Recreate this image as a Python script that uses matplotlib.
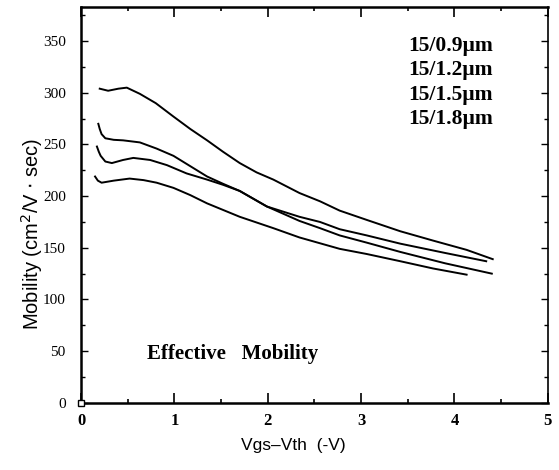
import numpy as np
import matplotlib.pyplot as plt
from matplotlib.ticker import MultipleLocator

# values (Vgs-Vth in -V, mobility in cm2/V.sec)
x_09 = [0.20, 0.29, 0.40, 0.49, 0.63, 0.80, 0.99, 1.17, 1.35, 1.52, 1.70, 1.88, 2.06, 2.34, 2.56,
        2.77, 3.06, 3.42, 3.77, 4.13, 4.41]
mu_09 = [304, 302, 304, 305, 299, 290, 277, 265, 254, 243, 232, 223, 216, 203, 195,
         186, 177, 166, 157, 148, 139]

x_12 = [0.185, 0.20, 0.22, 0.26, 0.35, 0.45, 0.63, 0.81, 0.99, 1.17, 1.35, 1.52, 1.70, 1.99,
        2.34, 2.56, 2.77, 3.06, 3.42, 3.90, 4.40]
mu_12 = [270, 265, 260, 256, 254.5, 254, 252, 246, 239, 229, 219, 212, 205, 190,
         176, 169, 162, 155, 146, 135, 125]

x_15 = [0.17, 0.19, 0.21, 0.26, 0.33, 0.45, 0.56, 0.74, 0.92, 1.13, 1.35, 1.52, 1.70, 1.99,
        2.34, 2.56, 2.77, 3.06, 3.42, 3.90, 4.34]
mu_15 = [248, 243, 239, 233.5, 232, 235, 237, 235, 230, 222, 216, 211, 205, 190,
         180, 175, 168, 162, 154, 145, 137]

x_18 = [0.15, 0.18, 0.22, 0.35, 0.52, 0.67, 0.81, 0.99, 1.17, 1.35, 1.70, 2.06, 2.34, 2.77,
        3.06, 3.42, 3.77, 4.13]
mu_18 = [219, 215, 213, 215, 217, 215.5, 213, 208, 201, 193, 180, 169, 160, 149,
         144, 137, 130, 124]

labels = ['15/0.9\u00b5m', '15/1.2\u00b5m', '15/1.5\u00b5m', '15/1.8\u00b5m']

serif = ['Liberation Serif', 'DejaVu Serif']
sans = ['Liberation Sans', 'DejaVu Sans']

fig = plt.figure(figsize=(5.59, 4.70), dpi=100)
ax = fig.add_axes([0.145, 0.143, 0.835, 0.842])

for xs, ys in [(x_09, mu_09), (x_12, mu_12), (x_15, mu_15), (x_18, mu_18)]:
    ax.plot(xs, ys, color='black', lw=1.4, solid_joinstyle='round')

# small open square at the origin
ax.plot([0], [0], marker='s', ms=5, mfc='white', mec='black', mew=1, clip_on=False, zorder=5)

ax.set_xlim(0, 5)
ax.set_ylim(0, 383)

ax.xaxis.set_major_locator(MultipleLocator(1))
ax.xaxis.set_minor_locator(MultipleLocator(0.5))
ax.yaxis.set_major_locator(MultipleLocator(50))
ax.yaxis.set_minor_locator(MultipleLocator(25))

ax.tick_params(axis='x', which='both', direction='in', top=True, bottom=True, pad=7)
ax.tick_params(axis='x', which='major', length=7, width=1.2)
ax.tick_params(axis='x', which='minor', length=3, width=1.2)
ax.tick_params(axis='y', which='both', direction='in', left=True, right=True, pad=11)
ax.tick_params(axis='y', which='major', length=5, width=1)
ax.tick_params(axis='y', which='minor', length=3, width=1)

for lab in ax.get_xticklabels():
    lab.set_fontfamily(serif)
    lab.set_fontweight('bold')
    lab.set_fontsize(12)
for lab in ax.get_yticklabels():
    lab.set_fontfamily(serif)
    lab.set_fontsize(11)

for s in ['left', 'bottom', 'top']:
    ax.spines[s].set_linewidth(1.8)
ax.spines['right'].set_linewidth(1.2)

ax.set_xlabel('Vgs\u2013Vth  (-V)', family=sans, fontsize=12.5)
ax.xaxis.set_label_coords(0.454, -0.088)
ax.set_ylabel('Mobility (cm$^2$/V $\\cdot$ sec)', family=sans, fontsize=14.5)
ax.yaxis.set_label_coords(-0.078, 0.427)

for i, t in enumerate(labels):
    ax.text(0.70, 0.901 - i * 0.061, t, transform=ax.transAxes, family=serif,
            fontweight='bold', fontsize=15.5, va='center', ha='left')

ax.text(0.71, 47, 'Effective   Mobility', family=serif, fontweight='bold',
        fontsize=15, va='center', ha='left')

fig.savefig('out.png', dpi=100)
